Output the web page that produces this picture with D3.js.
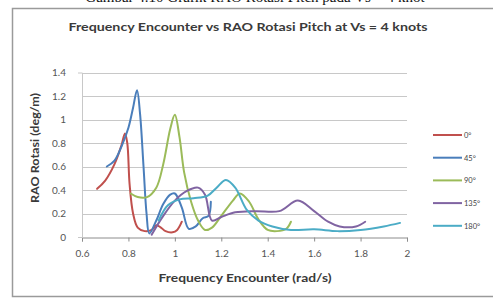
<!DOCTYPE html>
<html><head><meta charset="utf-8">
<script src="https://cdn.jsdelivr.net/npm/d3@7"></script>
<style>body{margin:0;background:#fff;overflow:hidden}svg{display:block}</style>
</head><body><svg id="c" width="493" height="301"></svg>
<script>
const seriesNames = ["0°","45°","90°","135°","180°"];
const seriesColors = ["#C0504D","#4A7EBB","#9BBB59","#8064A2","#4BACC6"];
const xTicks = [0.6,0.8,1,1.2,1.4,1.6,1.8,2];
const yTicks = [0,0.2,0.4,0.6,0.8,1,1.2,1.4];
const s0 = [[0.665,0.41],[0.70,0.48],[0.74,0.62],[0.77,0.78],[0.785,0.88],[0.795,0.80],[0.805,0.45],[0.82,0.20],[0.84,0.08],[0.87,0.05],[0.90,0.06],[0.92,0.10],[0.94,0.08],[0.96,0.05],[0.99,0.04],[1.01,0.06],[1.03,0.13]];
const s45 = [[0.707,0.60],[0.74,0.65],[0.77,0.77],[0.80,0.93],[0.82,1.10],[0.837,1.25],[0.85,1.05],[0.865,0.60],[0.878,0.20],[0.89,0.03],[0.92,0.14],[0.95,0.28],[0.98,0.36],[1.00,0.37],[1.03,0.25],[1.06,0.07],[1.09,0.09],[1.12,0.16],[1.145,0.18],[1.155,0.30]];
const s90 = [[0.81,0.37],[0.84,0.34],[0.88,0.34],[0.92,0.42],[0.95,0.62],[0.98,0.92],[1.00,1.04],[1.02,0.85],[1.04,0.55],[1.07,0.30],[1.10,0.14],[1.13,0.06],[1.16,0.08],[1.20,0.18],[1.25,0.31],[1.28,0.37],[1.32,0.30],[1.36,0.15],[1.40,0.06],[1.44,0.05],[1.48,0.07],[1.50,0.13]];
const s135 = [[0.90,0.02],[0.95,0.18],[1.00,0.31],[1.05,0.39],[1.10,0.42],[1.13,0.36],[1.16,0.14],[1.20,0.17],[1.26,0.21],[1.35,0.22],[1.45,0.22],[1.53,0.31],[1.60,0.22],[1.66,0.13],[1.71,0.09],[1.78,0.09],[1.82,0.13]];
const s180 = [[0.93,0.14],[0.97,0.27],[1.02,0.32],[1.08,0.33],[1.14,0.35],[1.18,0.42],[1.22,0.485],[1.26,0.42],[1.31,0.23],[1.36,0.14],[1.42,0.09],[1.50,0.06],[1.60,0.065],[1.70,0.05],[1.80,0.06],[1.90,0.09],[1.97,0.12]];
const seriesData = [s0,s45,s90,s135,s180];

const svg = d3.select("#c");
// cut-off caption at the very top (only the lower edge of its glyphs is visible, as in the reference)
svg.append("text").attr("x",255).attr("y",1.5).attr("text-anchor","middle")
  .attr("font-family","Liberation Serif").attr("font-size",15).attr("fill","#111")
  .text("Gambar 4.10 Grafik RAO Rotasi Pitch pada Vs = 4 knot");
// chart border
svg.append("rect").attr("x",12.5).attr("y",8.5).attr("width",500).attr("height",288)
  .attr("fill","#fff").attr("stroke","#9a9a9a").attr("stroke-width",1.5);

const x = d3.scaleLinear().domain([0.6,2]).range([82,407]);
const y = d3.scaleLinear().domain([0,1.4]).range([237,72.5]);

// gridlines
svg.append("g").selectAll("line").data(yTicks.filter(d=>d>0)).join("line")
  .attr("x1",x(0.6)).attr("x2",x(2)).attr("y1",d=>Math.round(y(d))+0.5).attr("y2",d=>Math.round(y(d))+0.5)
  .attr("stroke","#c8c8c8").attr("stroke-width",1);

// axes
const xa = svg.append("g").attr("transform",`translate(0,${Math.round(y(0))+0.5})`)
  .call(d3.axisBottom(x).tickValues(xTicks).tickFormat(d3.format("~g")).tickSize(4).tickPadding(8));
const ya = svg.append("g").attr("transform",`translate(${x(0.6)},0)`)
  .call(d3.axisLeft(y).tickValues(yTicks).tickFormat(d3.format("~g")).tickSize(4).tickPadding(12));
[xa,ya].forEach(a=>{
  a.select(".domain").attr("stroke","#8c8c8c");
  a.selectAll(".tick line").attr("stroke","#8c8c8c");
  a.selectAll("text").attr("font-family","Lato").attr("font-size",10).attr("fill","#555");
});
ya.selectAll(".tick line").remove();
ya.select(".domain").attr("stroke","#c8c8c8");

// lines
const line = d3.line().x(d=>x(d[0])).y(d=>y(d[1])).curve(d3.curveCatmullRom.alpha(0.5));
svg.append("g").selectAll("path").data(seriesData).join("path")
  .attr("d",line).attr("fill","none")
  .attr("stroke",(d,i)=>seriesColors[i]).attr("stroke-width",2)
  .attr("stroke-linejoin","round").attr("stroke-linecap","round");

// titles
svg.append("text").attr("x",248).attr("y",31).attr("text-anchor","middle")
  .attr("font-family","Lato").attr("font-weight","bold").attr("font-size",11)
  .attr("fill","#3a3a3a").attr("textLength",359).attr("lengthAdjust","spacingAndGlyphs")
  .text("Frequency Encounter vs RAO Rotasi Pitch at Vs = 4 knots");
svg.append("text").attr("x",245).attr("y",282).attr("text-anchor","middle")
  .attr("font-family","Lato").attr("font-weight","bold").attr("font-size",10.5)
  .attr("fill","#3a3a3a").attr("textLength",173).attr("lengthAdjust","spacingAndGlyphs")
  .text("Frequency Encounter (rad/s)");
svg.append("text").attr("transform","translate(39,148) rotate(-90)").attr("text-anchor","middle")
  .attr("font-family","Lato").attr("font-weight","bold").attr("font-size",10.5)
  .attr("fill","#3a3a3a").attr("textLength",110).attr("lengthAdjust","spacingAndGlyphs")
  .text("RAO Rotasi (deg/m)");

// legend
const lg = svg.append("g").selectAll("g").data(seriesNames).join("g")
  .attr("transform",(d,i)=>`translate(433,${135+i*22.7})`);
lg.append("line").attr("x1",0).attr("x2",29).attr("stroke",(d,i)=>seriesColors[i]).attr("stroke-width",2);
lg.append("text").attr("x",31).attr("y",3).attr("font-family","Lato").attr("font-size",7.5)
  .attr("fill","#444").text(d=>d);
</script></body></html>
